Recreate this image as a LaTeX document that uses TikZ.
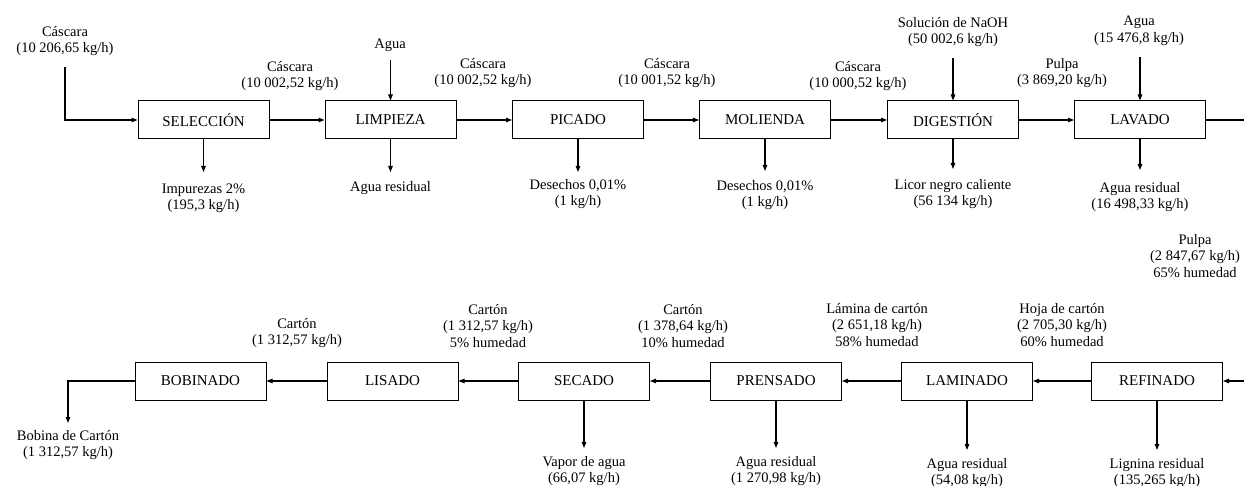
\documentclass[tikz,border=0pt]{standalone}
\usepackage{fontspec}
\setmainfont{Liberation Serif}
\usetikzlibrary{arrows.meta}
\begin{document}
\begin{tikzpicture}[x=1pt,y=-1pt,
  every node/.style={font=\rmfamily},
  proc/.style={draw, line width=1pt, minimum width=131pt, minimum height=38pt,
    inner sep=0pt, font=\rmfamily\fontsize{15}{17}\selectfont},
  lbl/.style={align=center, inner sep=0pt, font=\rmfamily\fontsize{14.5}{16.5}\selectfont},
  flow/.style={line width=1.1pt, -{Triangle[length=6pt,width=4.5pt]}},
  pipe/.style={line width=1.1pt}]
\useasboundingbox (0,0) rectangle (1244,486);

% ---------- upper line of operations ----------
\node[proc] (sel) at (203.5,120) {SELECCIÓN};
\node[proc] (lim) at (390.5,120) {LIMPIEZA};
\node[proc] (pic) at (578,120)   {PICADO};
\node[proc] (mol) at (765,120)   {MOLIENDA};
\node[proc] (dig) at (953,120)   {DIGESTIÓN};
\node[proc] (lav) at (1140,120)  {LAVADO};

% ---------- lower line of operations ----------
\node[proc] (bob) at (200.5,381) {BOBINADO};
\node[proc] (lis) at (392.5,381) {LISADO};
\node[proc] (sec) at (584,381)   {SECADO};
\node[proc] (pre) at (776,381)   {PRENSADO};
\node[proc] (lam) at (967,381)   {LAMINADO};
\node[proc] (ref) at (1157,381)  {REFINADO};

% ---------- stream labels, upper line ----------
\node[lbl] (tIn)  at (65,41)    {Cáscara\\(10 206,65 kg/h)};
\node[lbl] (t1)   at (290,76)   {Cáscara\\(10 002,52 kg/h)};
\node[lbl] (tAg1) at (390,45)   {Agua};
\node[lbl] (t2)   at (483,73)   {Cáscara\\(10 002,52 kg/h)};
\node[lbl] (t3)   at (667,73)   {Cáscara\\(10 001,52 kg/h)};
\node[lbl] (t4)   at (858,76)   {Cáscara\\(10 000,52 kg/h)};
\node[lbl] (tNa)  at (953,32)   {Solución de NaOH\\(50 002,6 kg/h)};
\node[lbl] (t5)   at (1062,73)  {Pulpa\\(3 869,20 kg/h)};
\node[lbl] (tAg2) at (1139,31)  {Agua\\(15 476,8 kg/h)};

\node[lbl] (oSel) at (203.5,198) {Impurezas 2\%\\(195,3 kg/h)};
\node[lbl] (oLim) at (390.5,188) {Agua residual};
\node[lbl] (oPic) at (578,194)   {Desechos 0,01\%\\(1 kg/h)};
\node[lbl] (oMol) at (765,195)   {Desechos 0,01\%\\(1 kg/h)};
\node[lbl] (oDig) at (953,194)   {Licor negro caliente\\(56 134 kg/h)};
\node[lbl] (oLav) at (1140,197)  {Agua residual\\(16 498,33 kg/h)};

% ---------- stream labels, lower line ----------
\node[lbl] (tPul) at (1195,256) {Pulpa\\(2 847,67 kg/h)\\65\% humedad};
\node[lbl] (t6)   at (1062,325) {Hoja de cartón\\(2 705,30 kg/h)\\60\% humedad};
\node[lbl] (t7)   at (877,325)  {Lámina de cartón\\(2 651,18 kg/h)\\58\% humedad};
\node[lbl] (t8)   at (683,326)  {Cartón\\(1 378,64 kg/h)\\10\% humedad};
\node[lbl] (t9)   at (488,326)  {Cartón\\(1 312,57 kg/h)\\5\% humedad};
\node[lbl] (t10)  at (297,333)  {Cartón\\(1 312,57 kg/h)};
\node[lbl] (tOut) at (68,445)   {Bobina de Cartón\\(1 312,57 kg/h)};

\node[lbl] (oSec) at (584,471)  {Vapor de agua\\(66,07 kg/h)};
\node[lbl] (oPre) at (776,471)  {Agua residual\\(1 270,98 kg/h)};
\node[lbl] (oLam) at (967,473)  {Agua residual\\(54,08 kg/h)};
\node[lbl] (oRef) at (1157,473) {Lignina residual\\(135,265 kg/h)};

% ---------- free ends of streams ----------
\coordinate (feedTop)  at (65,67);
\coordinate (feedBend) at (65,120);
\coordinate (ag1) at (390.5,60);
\coordinate (na)  at (953,58);
\coordinate (ag2) at (1140,57);
\coordinate (eSel) at (203.5,172);
\coordinate (eLim) at (390.5,172);
\coordinate (ePic) at (578,172);
\coordinate (eMol) at (765,171);
\coordinate (eDig) at (953,169);
\coordinate (eLav) at (1140,170);
\coordinate (lavOut) at (1244,120);
\coordinate (refIn)  at (1244,381);
\coordinate (bobBend) at (68,381);
\coordinate (bobEnd)  at (68,423);
\coordinate (eSec) at (584,448);
\coordinate (ePre) at (776,448);
\coordinate (eLam) at (967,450);
\coordinate (eRef) at (1157,450);

% ---------- main flow, upper line ----------
\draw[flow] (feedTop) -- (feedBend) -- (sel.west);
\draw[flow] (sel.east) -- (lim.west);
\draw[flow] (lim.east) -- (pic.west);
\draw[flow] (pic.east) -- (mol.west);
\draw[flow] (mol.east) -- (dig.west);
\draw[flow] (dig.east) -- (lav.west);
\draw[pipe] (lav.east) -- (lavOut);

% ---------- feeds from above ----------
\draw[flow] (ag1) -- (lim.north);
\draw[flow] (na)  -- (dig.north);
\draw[flow] (ag2) -- (lav.north);

% ---------- discharges, upper line ----------
\draw[flow] (sel.south) -- (eSel);
\draw[flow] (lim.south) -- (eLim);
\draw[flow] (pic.south) -- (ePic);
\draw[flow] (mol.south) -- (eMol);
\draw[flow] (dig.south) -- (eDig);
\draw[flow] (lav.south) -- (eLav);

% ---------- main flow, lower line ----------
\draw[flow] (refIn) -- (ref.east);
\draw[flow] (ref.west) -- (lam.east);
\draw[flow] (lam.west) -- (pre.east);
\draw[flow] (pre.west) -- (sec.east);
\draw[flow] (sec.west) -- (lis.east);
\draw[flow] (lis.west) -- (bob.east);
\draw[flow] (bob.west) -- (bobBend) -- (bobEnd);

% ---------- discharges, lower line ----------
\draw[flow] (sec.south) -- (eSec);
\draw[flow] (pre.south) -- (ePre);
\draw[flow] (lam.south) -- (eLam);
\draw[flow] (ref.south) -- (eRef);
\end{tikzpicture}
\end{document}
